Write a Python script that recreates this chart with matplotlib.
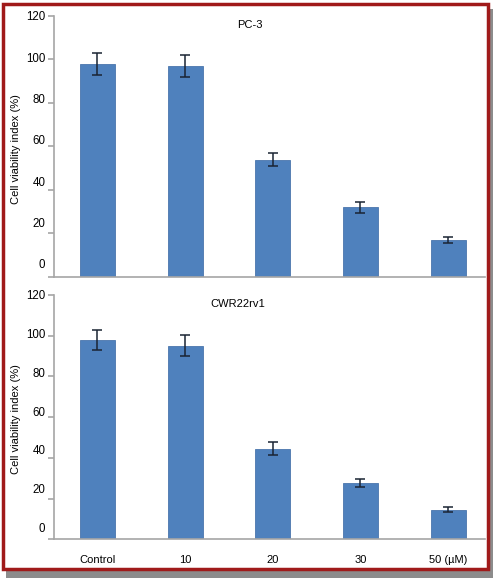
import matplotlib.pyplot as plt
from matplotlib.patches import Rectangle

plt.rcParams['font.family'] = ['Liberation Sans', 'DejaVu Sans']

# Data
doses = ["Control", "10", "20", "30", "50 (\u00b5M)"]
pc3_mean = [98, 97, 54, 32, 17]
pc3_err = [5, 5, 3, 2.5, 1.2]
cwr_mean = [98, 95, 44.5, 27.5, 14.5]
cwr_err = [5, 5.2, 3.1, 2, 1.3]
y_ticks = [0, 20, 40, 60, 80, 100, 120]

bar_color = "#4f81bd"
axis_gray = "#a6a6a6"

fig = plt.figure(figsize=(4.93, 5.78), dpi=100)

# frame with shadow
fig.patches.append(Rectangle((0.012, 0.0), 0.988, 0.985, transform=fig.transFigure,
                             facecolor="#8c8c8c", edgecolor="none", zorder=-3))
fig.patches.append(Rectangle((0.006, 0.015), 0.984, 0.978, transform=fig.transFigure,
                             facecolor="white", edgecolor="#a01a1a", linewidth=2.5, zorder=-2))


def panel(rect, means, errs, title, title_x, show_xlabels):
    ax = fig.add_axes(rect)
    ax.patch.set_alpha(0)
    x = list(range(len(doses)))
    ax.bar(x, means, width=0.4, color=bar_color, edgecolor="#4a76ad", linewidth=0.6,
           zorder=2)
    ax.errorbar(x, means, yerr=errs, fmt="none", ecolor="#1a2433", elinewidth=1.1,
                capsize=3.5, capthick=1.1, zorder=3)
    ax.set_xlim(-0.5, 4.42)
    ax.set_ylim(0, 120)
    for s in ["top", "right"]:
        ax.spines[s].set_visible(False)
    for s in ["left", "bottom"]:
        ax.spines[s].set_color(axis_gray)
        ax.spines[s].set_linewidth(1.2)
    ax.set_yticks(y_ticks)
    ax.set_yticklabels([])
    ax.set_xticks([0.5, 1.5, 2.5, 3.5], minor=False)
    ax.set_xticklabels([])
    ax.tick_params(axis="both", direction="out", length=4, color=axis_gray, width=1.2)
    ax.set_ylabel("Cell viability index (%)", fontsize=8)
    ax.yaxis.set_label_coords(-0.075, 0.49)

    # tick labels sit slightly off the tick marks in the original
    lab = ax.twinx()
    lab.set_ylim(-6.3, 120)
    lab.set_yticks(y_ticks)
    lab.yaxis.tick_left()
    lab.tick_params(axis="y", length=0, pad=6, labelsize=8.3)
    for s in lab.spines.values():
        s.set_visible(False)
    lab.set_xticks([])

    if show_xlabels:
        ax.set_xticks(x, minor=True)
        ax.set_xticklabels(doses, minor=True, fontsize=8)
        ax.tick_params(axis="x", which="minor", length=0, pad=11)
    ax.text(title_x, title_y, title, transform=ax.transAxes, fontsize=8,
            ha="center", va="center")
    return ax


title_y = 0.965
panel([0.1087, 0.5208, 0.875, 0.4516], pc3_mean, pc3_err, "PC-3", 0.456, False)
panel([0.1087, 0.0670, 0.875, 0.4227], cwr_mean, cwr_err, "CWR22rv1", 0.428, True)

fig.savefig("out.png", dpi=100)
